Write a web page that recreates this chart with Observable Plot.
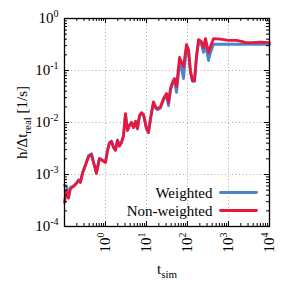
<!DOCTYPE html>
<html><head><meta charset="utf-8">
<script src="https://cdn.jsdelivr.net/npm/d3@7"></script>
<script src="https://cdn.jsdelivr.net/npm/@observablehq/plot@0.6"></script>
<style>body{margin:0;background:#fff}</style>
</head><body><div id="chart"></div>
<script>
const tSim = [0.1,0.112,0.125,0.14,0.166,0.196,0.22,0.245,0.275,0.325,0.385,0.456,0.51,0.6,0.71,0.845,1.0,1.12,1.25,1.4,1.57,1.75,1.96,2.2,2.45,2.75,3.07,3.44,3.85,4.3,4.82,5.4,6.0,6.75,7.55,8.45,10,11.2,12.5,14.8,16.6,18.6,21.9,26,30.9,34.4,38.5,43,48,54,64,71.5,80,94.6,106,118,132,148,166,186,219,245,275,325,364,430,630,1000,1570,2200,2580,3840,6000,10000];
const nonWeighted = [2.9e-4,4.9e-4,3.5e-4,5.4e-4,5.9e-4,6.7e-4,7.7e-4,7.0e-4,1.05e-3,1.5e-3,2.2e-3,2.4e-3,1.7e-3,1.05e-3,2.0e-3,1.85e-3,1.7e-3,2.9e-3,4.0e-3,4.3e-3,3.3e-3,2.9e-3,4.5e-3,3.5e-3,4.1e-3,5.6e-3,1.48e-2,7.0e-3,8.8e-3,1.0e-2,8.0e-3,1.05e-2,7.7e-3,1.36e-2,1.55e-2,1.42e-2,7.7e-3,6.4e-3,1.2e-2,2.5e-2,2.0e-2,1.85e-2,2.0e-2,2.9e-2,3.6e-2,2.4e-2,4.5e-2,5.9e-2,7.0e-2,4.9e-2,0.178,0.143,0.119,0.316,0.254,0.1,0.064,0.064,0.194,0.394,0.36,0.276,0.41,0.22,0.29,0.41,0.40,0.38,0.38,0.36,0.345,0.345,0.35,0.345];
const weighted = [6.2e-4,6.0e-4,4.0e-4,5.6e-4,6.0e-4,6.9e-4,7.9e-4,7.2e-4,1.08e-3,1.55e-3,2.3e-3,2.5e-3,1.75e-3,1.1e-3,2.05e-3,1.9e-3,1.75e-3,2.9e-3,4.1e-3,4.4e-3,3.3e-3,3.0e-3,4.6e-3,3.6e-3,4.1e-3,5.6e-3,1.45e-2,7.2e-3,8.8e-3,1.0e-2,8.0e-3,1.05e-2,7.5e-3,1.3e-2,1.5e-2,1.4e-2,7.5e-3,6.4e-3,1.15e-2,2.4e-2,1.9e-2,1.75e-2,1.9e-2,2.7e-2,3.3e-2,2.1e-2,4.2e-2,5.5e-2,6.5e-2,3.8e-2,0.136,0.11,0.07,0.277,0.22,0.09,0.062,0.062,0.18,0.345,0.316,0.222,0.316,0.155,0.222,0.32,0.322,0.32,0.32,0.318,0.318,0.318,0.32,0.318];
const seriesNames = ["Weighted", "Non-weighted"];
const seriesColors = ["#4a86c8", "#e8173f"];
const xMajor = [1, 10, 100, 1000, 10000];
const yMajor = [1e-4, 1e-3, 1e-2, 1e-1, 1];
const xGrid = [1, 10, 100, 1000];
const yGrid = [1e-3, 1e-2, 1e-1];
const xDecades = [0.1, 1, 10, 100, 1000];
const yDecades = [1e-4, 1e-3, 1e-2, 1e-1];
const mult = [2,3,4,5,6,7,8,9];
const xMinor = xDecades.flatMap(d => mult.map(m => d * m));
const yMinor = yDecades.flatMap(d => mult.map(m => d * m));

const W = 299, H = 295, mL = 64, mR = 30, mT = 18, mB = 69;
const fw = W - mL - mR, fh = H - mT - mB;

const wData = tSim.map((t, i) => ({t, v: weighted[i]}));
const nData = tSim.map((t, i) => ({t, v: nonWeighted[i]}));
const fmt = d => "10^" + Math.round(Math.log10(d));
const lineShape = {draw(ctx, l) { ctx.moveTo(0, 0); ctx.lineTo(0, -l); }};

const plot = Plot.plot({
  width: W, height: H,
  marginLeft: mL, marginRight: mR, marginTop: mT, marginBottom: mB,
  style: {fontFamily: "'Liberation Serif', serif", fontSize: "15px", background: "#fff", color: "#000"},
  x: {type: "log", domain: [0.1, 10000]},
  y: {type: "log", domain: [1e-4, 1]},
  marks: [
    Plot.gridX(xGrid, {stroke: "#aaa", strokeOpacity: 1, strokeWidth: 1, strokeDasharray: "1,2.5"}),
    Plot.gridY(yGrid, {stroke: "#aaa", strokeOpacity: 1, strokeWidth: 1, strokeDasharray: "1,2.5"}),
    Plot.line(wData, {x: "t", y: "v", stroke: seriesColors[0], strokeWidth: 2.8, strokeLinejoin: "round"}),
    Plot.line(nData, {x: "t", y: "v", stroke: seriesColors[1], strokeWidth: 2.8, strokeLinejoin: "round"}),
    // inward ticks, all four sides
    Plot.tickX(xMajor, {insetTop: fh - 5, stroke: "#000", strokeWidth: 1}),
    Plot.tickX(xMajor, {insetBottom: fh - 5, stroke: "#000", strokeWidth: 1}),
    Plot.tickX(xMinor, {insetTop: fh - 3, stroke: "#000", strokeWidth: 1}),
    Plot.tickX(xMinor, {insetBottom: fh - 3, stroke: "#000", strokeWidth: 1}),
    Plot.tickY(yMajor, {insetRight: fw - 5, stroke: "#000", strokeWidth: 1}),
    Plot.tickY(yMajor, {insetLeft: fw - 5, stroke: "#000", strokeWidth: 1}),
    Plot.tickY(yMinor, {insetRight: fw - 3, stroke: "#000", strokeWidth: 1}),
    Plot.tickY(yMinor, {insetLeft: fw - 3, stroke: "#000", strokeWidth: 1}),
    Plot.axisX({ticks: xMajor, tickSize: 0, tickPadding: 6, tickRotate: -90, tickFormat: fmt,
      label: "t_sim", labelAnchor: "center", labelOffset: 47, fontSize: 15}),
    Plot.axisY({ticks: yMajor, tickSize: 0, tickPadding: 6, tickFormat: fmt,
      label: "h/Δt_real [1/s]", labelAnchor: "center", labelOffset: 48, fontSize: 15}),
    Plot.frame({stroke: "#000", strokeWidth: 1.3}),
    // legend
    Plot.text([seriesNames[0]], {frameAnchor: "bottom-right", textAnchor: "end", lineAnchor: "middle", dx: -57, dy: -33, fontSize: 15, fill: "#000"}),
    Plot.text([seriesNames[1]], {frameAnchor: "bottom-right", textAnchor: "end", lineAnchor: "middle", dx: -57, dy: -15, fontSize: 15, fill: "#000"}),
    Plot.vector([0], {frameAnchor: "bottom-right", dx: -49, dy: -34, length: 36, rotate: 90, anchor: "start", shape: lineShape, stroke: seriesColors[0], strokeWidth: 2.8}),
    Plot.vector([0], {frameAnchor: "bottom-right", dx: -49, dy: -16, length: 36, rotate: 90, anchor: "start", shape: lineShape, stroke: seriesColors[1], strokeWidth: 2.8})
  ]
});
document.getElementById("chart").appendChild(plot);

const svg = d3.select(plot);
svg.selectAll('g[aria-label="x-axis tick label"] text, g[aria-label="y-axis tick label"] text').each(function () {
  const m = this.textContent.match(/^10\^(-?\d+)$/);
  if (!m) return;
  const el = d3.select(this);
  el.text(null);
  el.append("tspan").text("10");
  el.append("tspan").attr("dy", "-6").attr("font-size", "10px").text(m[1]);
});
svg.selectAll('g[aria-label="x-axis label"] text').each(function () {
  const el = d3.select(this);
  el.text(null);
  el.append("tspan").text("t");
  el.append("tspan").attr("dy", "4").attr("font-size", "11px").text("sim");
});
svg.selectAll('g[aria-label="y-axis label"] text').each(function () {
  const el = d3.select(this);
  el.text(null);
  el.append("tspan").text("h/Δt");
  el.append("tspan").attr("dy", "4").attr("font-size", "11px").text("real");
  el.append("tspan").attr("dy", "-4").text(" [1/s]");
});
</script></body></html>
